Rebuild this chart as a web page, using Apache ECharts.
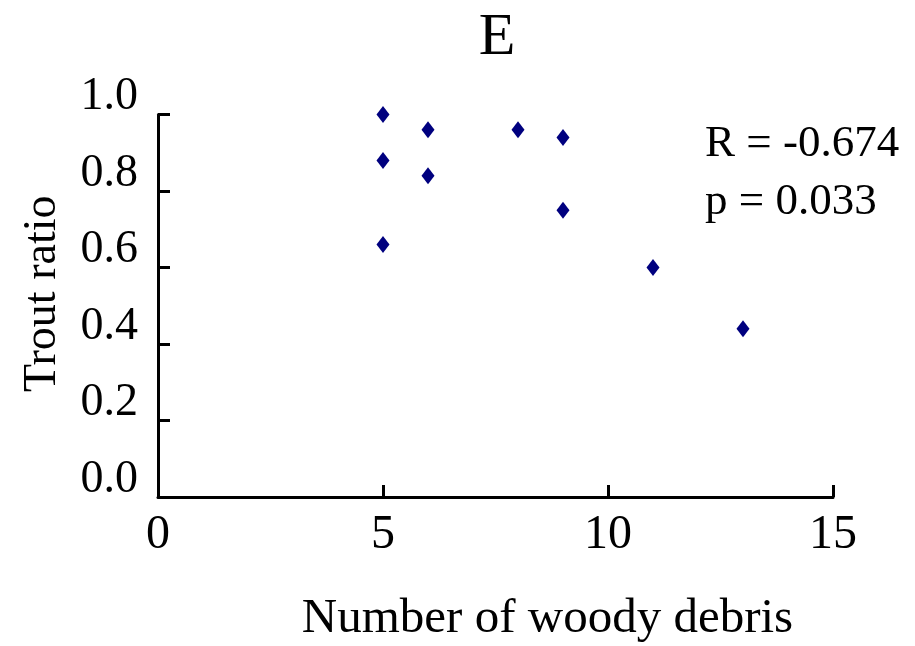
<!DOCTYPE html>
<html>
<head>
<meta charset="utf-8">
<script src="https://cdn.jsdelivr.net/npm/echarts@6/dist/echarts.min.js"></script>
<style>html,body{margin:0;padding:0;background:#fff;}#c{width:915px;height:646px;}</style>
</head>
<body>
<div id="c"></div>
<script>
var woodyDebris = [5, 5, 5, 6, 6, 8, 9, 9, 11, 13];
var troutRatio  = [1.00, 0.88, 0.66, 0.96, 0.84, 0.96, 0.94, 0.75, 0.60, 0.44];
var xTicks = [0, 5, 10, 15];
var yTicks = [0.0, 0.2, 0.4, 0.6, 0.8, 1.0];
var panelTitle = 'E';
var statLines = ['R = -0.674', 'p = 0.033'];

var FONT = '"Liberation Serif", "Times New Roman", serif';
var chart = echarts.init(document.getElementById('c'));
var pts = woodyDebris.map(function (x, i) { return [x, troutRatio[i]]; });

chart.setOption({
  animation: false,
  backgroundColor: '#fff',
  title: {
    text: panelTitle,
    left: 492, top: 3,
    textAlign: 'center',
    textStyle: { fontFamily: FONT, fontSize: 60, fontWeight: 'normal', color: '#000' }
  },
  grid: { left: 158, right: 82, top: 114.5, bottom: 149, containLabel: false, outerBoundsMode: 'none' },
  xAxis: {
    type: 'value', min: xTicks[0], max: xTicks[xTicks.length - 1], interval: 5,
    splitLine: { show: false },
    axisLine: { onZero: false, lineStyle: { color: '#000', width: 3 } },
    axisTick: { inside: true, length: 12, lineStyle: { color: '#000', width: 3 } },
    axisLabel: { fontFamily: FONT, fontSize: 48, color: '#000', margin: 14 },
    name: 'Number of woody debris',
    nameLocation: 'middle', nameGap: 98,
    nameTextStyle: { fontFamily: FONT, fontSize: 49, color: '#000', padding: [0, 0, 0, 104] }
  },
  yAxis: {
    type: 'value', min: yTicks[0], max: yTicks[yTicks.length - 1], interval: 0.2,
    splitLine: { show: false },
    axisLine: { onZero: false, lineStyle: { color: '#000', width: 3 } },
    axisTick: { inside: true, length: 12, lineStyle: { color: '#000', width: 3 } },
    axisLabel: {
      fontFamily: FONT, fontSize: 46, color: '#000', margin: 20,
      verticalAlign: 'bottom', lineHeight: 35,
      formatter: function (v) { return v.toFixed(1); }
    },
    name: 'Trout ratio',
    nameLocation: 'middle', nameGap: 92,
    nameTextStyle: { fontFamily: FONT, fontSize: 46, color: '#000', padding: [0, 0, 0, 24] }
  },
  graphic: [
    { type: 'text', left: 705, top: 122, style: { text: statLines[0], font: '45px ' + FONT, fill: '#000' } },
    { type: 'text', left: 705, top: 180, style: { text: statLines[1], font: '45px ' + FONT, fill: '#000' } }
  ],
  series: [{
    type: 'scatter',
    data: pts,
    symbol: 'diamond',
    symbolSize: [13, 17],
    itemStyle: { color: '#00007F', opacity: 1 }
  }]
});
</script>
</body>
</html>
